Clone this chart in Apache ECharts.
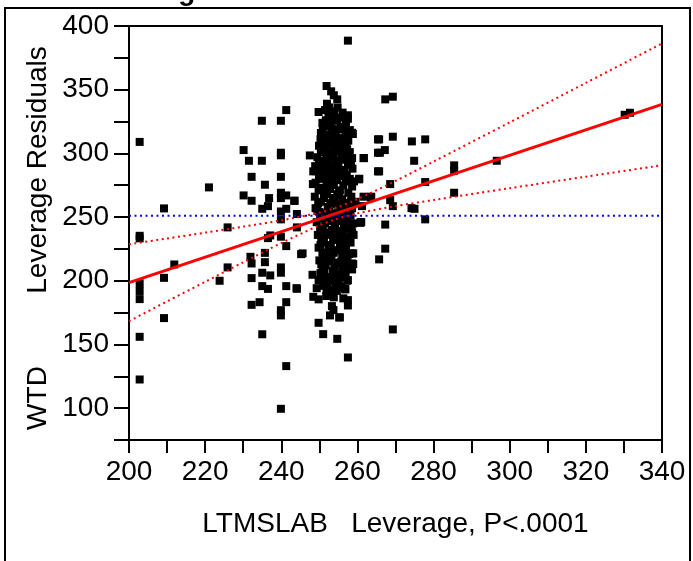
<!DOCTYPE html>
<html>
<head>
<meta charset="utf-8">
<script src="https://cdn.jsdelivr.net/npm/echarts@6/dist/echarts.min.js"></script>
<style>
  html, body { margin: 0; padding: 0; background: #fff; }
  #chart { width: 693px; height: 561px; }
</style>
</head>
<body>
<div id="chart"></div>
<script>
// ---- Data ----
const xTickLabels = [200, 220, 240, 260, 280, 300, 320, 340];
const yTickLabels = [100, 150, 200, 250, 300, 350, 400];

// sparse points left of the main cluster
const leftPoints = [
  [202.8,309],[202.8,235.3],[202.8,233.3],[202.8,198],[202.8,192],[202.8,185.6],[202.8,156],[202.8,122.5],
  [209.2,256.8],[209.2,202.3],[209.2,170.7],[211.9,212.8],[221,273.3],[225.9,241.9],[225.9,210.5],[223.8,200],
  [230.1,302.6],[231.5,294.2],[232.2,281.6],[230.1,267],[232.2,262.8],[234.9,325.6],[234.9,294.2],[235.7,275.4],
  [236.8,264.9],[236.5,258.6],[235,256.5],[239.9,325.6],[241.3,334],[239.9,300.5],[239.9,298.5],[239.9,281.6],
  [239.9,269.1],[239.9,264.9],[241.3,267],[243.4,262.8],[241.3,256.5],[239.9,254.4],[239.9,248.2],[244.1,252.4],
  [239.9,234.6],[237.1,235.6],[236.5,233.5],[241.3,227.2],[244.1,241.9],[231.9,218.8],[232.2,213.6],[235.7,221.9],
  [235.7,214.6],[235,206.3],[237.1,204.2],[232.2,202.1],[239.9,210.5],[239.9,206.3],[235,195.8],[236.5,193.6],
  [241.3,195.8],[244.1,193.7],[245.2,220.9],[234.3,183.2],[232.2,181.1],[241.3,183.2],[239.9,176.9],[239.9,172.8],
  [235,158],[241.3,133],[239.9,99.5]
];

// points around the edges of the main cluster
const edgePoints = [
  [247.5,298.4],[248.9,290],[248.4,285.9],[248.3,275.9],[243.5,262.8],[249.5,254.9],[245.6,221.5],[244,194.2],
  [249.8,167],[251,158.1],[254.7,154.4],[257.5,139.8],[255.4,171.3],[252.8,172.8],[253.7,177],[253.3,180.1],
  [248.4,187.4],[249.8,185.4],[257.5,184.8],[257.5,180.6],[256.3,186.2],[256.8,193.7],[257.5,200.5],[248.2,204.7],
  [249.8,200.5],[249.3,194.2],[251.9,192.7],[252.6,190.1],[255.1,197.9],[254.6,194.8],[258.6,221.5],[258.6,213.6],
  [258.6,208.9],[260.7,245.5],[258.6,237.2],
  [257.5,388.5],[251.9,352.9],[253.1,348.7],[253.8,345.6],[254.7,342.4],[252.6,336.1],[249.8,332.5],[257.5,329.9],
  [257.5,327.2],[253.1,329.9],[254.6,325.6],[251.9,321.5],[255.2,318.9],[258,318.3],[258.8,315.2],[265.4,311],
  [251.4,308.9],[256.8,308.9],[261.7,296.3],[265.4,300.5],[258.6,296.3],[265.4,285.9],[260.5,280.1],[263.6,266]
];

// dense core of the cluster
const clusterPoints = [
  [251.5,334],[253.2,331],[254.8,336],[252.4,328],[256.1,332],
  [250.8,324],[252.6,322],[254.1,327],[255.6,321],[253.4,319],[257.0,324],
  [250.4,316],[252.0,313],[253.6,317],[255.3,312],[256.9,315],[251.3,310],[254.5,309],
  [249.9,306],[251.5,303],[253.1,307],[254.8,302],[256.4,305],[258.0,301],[252.3,300],
  [249.5,297],[251.0,293],[252.7,298],[254.2,294],[255.9,296],[257.5,291],[253.5,290],[250.3,290],
  [249.2,286],[250.8,282],[252.4,288],[254.0,284],[255.6,287],[257.2,283],[258.7,288],[253.1,280],
  [249.0,277],[250.6,273],[252.2,279],[253.8,275],[255.4,271],[257.0,278],[258.6,274],[251.4,270],
  [248.8,266],[250.4,262],[252.0,268],[253.6,264],[255.2,269],[256.8,261],[258.4,266],[259.5,262],[254.4,260],
  [249.0,257],[250.6,253],[252.2,258],[253.8,251],[255.4,256],[257.0,252],[258.6,257],[251.4,250],[256.1,259],
  [249.3,246],[250.9,242],[252.5,248],[254.1,244],[255.7,247],[257.3,241],[258.9,245],[253.3,240],
  [249.6,236],[251.2,232],[252.8,238],[254.4,234],[256.0,237],[257.6,231],[259.0,236],[250.5,230],
  [249.8,226],[251.4,222],[253.0,228],[254.6,224],[256.2,227],[257.8,221],[252.1,220],
  [250.0,216],[251.6,212],[253.2,218],[254.8,214],[256.4,217],[257.9,211],[250.8,210],
  [250.3,206],[251.9,202],[253.5,208],[255.1,204],[256.7,207],[252.7,200],
  [251.0,196],[252.6,193],[254.2,198],[255.8,195],[253.4,191]
];

// further points filling the gaps of the dense core
const clusterFill = [
  [252.0,339],[253.9,333],[255.5,328],[251.7,326],[253.0,324],[256.4,319],[250.9,319],[252.9,315],[254.3,314],
  [257.6,310],[250.3,311],[252.6,309],[255.8,308],[251.0,306],[254.1,305],[257.2,304],[250.4,301],[253.2,301],
  [256.0,300],[251.8,296],[253.8,297],[257.0,295],[249.9,294],[252.2,291],[255.0,292],[258.3,293],[251.6,287],
  [254.8,289],[256.6,286],[250.0,284],[252.8,284],[255.4,282],[258.0,280],[249.9,280],[251.9,276],[254.6,279],
  [256.3,275],[259.1,278],[249.8,271],[252.8,272],[254.7,268],[257.6,269],[251.2,265],[254.0,265],[256.0,264],
  [258.3,262],[249.7,261],[252.9,261],[255.0,259],[257.7,260],[250.0,254],[252.6,254],[254.6,253],[256.6,255],
  [258.2,251],[250.2,249],[253.0,247],[254.9,249],[257.0,247],[251.5,245],[254.0,241],[256.4,242],[258.5,240],
  [250.2,240],[252.0,236],[255.2,239],[257.0,235],[250.8,234],[253.6,232],[255.7,232],[258.2,230],[250.3,228],
  [252.5,226],[255.4,227],[257.0,225],[250.8,222],[253.8,222],[256.0,221],[251.2,218],[252.7,215],[255.6,215],
  [257.4,216],[250.5,213],[254.0,211],[256.0,210],[251.3,207],[254.3,205],[256.9,203],[250.7,201],[253.2,203],
  [255.0,200],[252.0,198],[254.6,192],[251.8,188],[253.8,187]
];

// points to the right of the cluster
const rightPoints = [
  [267.3,342.4],[269.3,344.5],[265.7,311],[269.3,313.1],[274.3,309.4],[277.8,311],[267.2,302.6],[265.9,300.5],
  [261.6,296.3],[274.9,294.2],[265.7,285.9],[285.4,290.6],[285.4,286.4],[296.6,294.2],[330.2,330.3],[331.6,331.9],
  [268.6,275.9],[277.8,277.5],[285.4,269.1],[263.6,265.4],[268.6,263.3],[269.3,258.6],[274.2,257],[275,256.5],
  [277.8,248.2],[267.3,244.1],[267.3,225.2],[265.7,216.8],[260.9,246],[261.6,266],[269.3,161.8],
  [257.2,329.3],[258.6,316.2],[256.6,308.9],[257.3,302.6],[260.4,279.6],[261.2,258.6],[261,246],[258.6,237.2],
  [258.9,221.5],[258.9,213.1],[257.3,200],[256.8,193.2],[255.2,171.2]
];

// fitted line, confidence curves and mean line
const fitLine = [[200,198.5],[340,338.5]];
const upperCurve = [[200,228.7],[210,233.2],[220,237.8],[230,242.5],[240,247.4],[250,253.5],[254,257.0],[260,264.1],[270,278.4],[280,293.6],[300,324.3],[320,355.3],[340,386.3]];
const lowerCurve = [[200,168.3],[210,183.8],[220,199.2],[230,214.5],[240,229.6],[250,243.5],[254,248.0],[260,252.9],[270,258.6],[280,263.4],[300,272.7],[320,281.7],[340,290.7]];
const meanLine = [[200,251],[340,251]];

const FONT = 'Liberation Sans, Arial, sans-serif';
const chart = echarts.init(document.getElementById('chart'), null, { renderer: 'canvas' });
const allPoints = leftPoints.concat(edgePoints, clusterPoints, clusterFill, rightPoints);

chart.setOption({
  animation: false,
  backgroundColor: '#fff',
  grid: { left: 129, right: 31, top: 26, bottom: 121, show: true, borderColor: '#000', borderWidth: 2, backgroundColor: 'transparent' },
  xAxis: {
    type: 'value', min: 200, max: 340, interval: 10,
    axisLine: { show: true, onZero: false, lineStyle: { color: '#000', width: 2 } },
    axisTick: { show: true, inside: false, length: 13, lineStyle: { color: '#000', width: 2 } },
    axisLabel: { margin: 18, color: '#000', fontSize: 28, fontFamily: FONT,
      formatter: v => xTickLabels.indexOf(v) >= 0 ? String(v) : '' },
    splitLine: { show: false },
    name: 'LTMSLAB   Leverage, P<.0001', nameLocation: 'middle', nameGap: 70,
    nameTextStyle: { color: '#000', fontSize: 28, fontFamily: FONT }
  },
  yAxis: {
    type: 'value', min: 75, max: 400, interval: 25,
    axisLine: { show: true, onZero: false, lineStyle: { color: '#000', width: 2 } },
    axisTick: { show: true, inside: false, length: 15, lineStyle: { color: '#000', width: 2 } },
    axisLabel: { margin: 20, color: '#000', fontSize: 28, fontFamily: FONT,
      formatter: v => yTickLabels.indexOf(v) >= 0 ? String(v) : '' },
    splitLine: { show: false }
  },
  graphic: [
    { type: 'rect', shape: { x: 5, y: 8, width: 685, height: 600 }, style: { fill: 'none', stroke: '#000', lineWidth: 2 }, silent: true },
    { type: 'text', left: 88, top: -22, style: { text: 'Leverage Plot', font: 'bold 28px ' + FONT, fill: '#000' } },
    { type: 'text', x: 38, y: 170, rotation: Math.PI / 2, style: { text: 'Leverage Residuals', font: '28px ' + FONT, fill: '#000', textAlign: 'center', textVerticalAlign: 'middle' } },
    { type: 'text', x: 38, y: 398, rotation: Math.PI / 2, style: { text: 'WTD', font: '28px ' + FONT, fill: '#000', textAlign: 'center', textVerticalAlign: 'middle' } }
  ],
  series: [
    { type: 'scatter', data: allPoints, symbol: 'rect', symbolSize: 8, itemStyle: { color: '#000', opacity: 1 }, z: 2, silent: true },
    { type: 'line', data: meanLine, showSymbol: false, lineStyle: { color: '#0000ff', width: 2, type: [2, 3.5] }, z: 3, silent: true },
    { type: 'line', data: upperCurve, smooth: 0.3, showSymbol: false, lineStyle: { color: '#ff0000', width: 2, type: [2, 3.5] }, z: 4, silent: true },
    { type: 'line', data: lowerCurve, smooth: 0.3, showSymbol: false, lineStyle: { color: '#ff0000', width: 2, type: [2, 3.5] }, z: 4, silent: true },
    { type: 'line', data: fitLine, showSymbol: false, lineStyle: { color: '#ff0000', width: 3 }, z: 5, silent: true }
  ]
});
</script>
</body>
</html>
